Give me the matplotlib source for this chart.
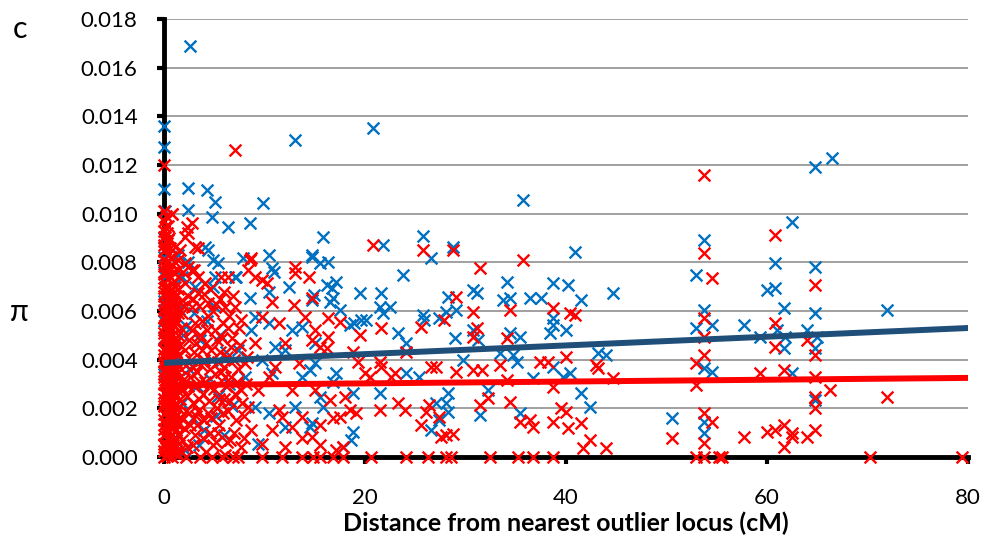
import matplotlib
matplotlib.use("Agg")
import matplotlib.pyplot as plt
import numpy as np

# values: (distance cM, pi x 1000)
blue_pts = [
    (0, 13.6), (0, 12.75), (0, 11.0), (0.1, 10.1), (0, 9.0), (0, 8.2), (0, 7.6), (0, 6.4),
    (0, 5.6), (0, 4.9), (0, 3.4),
    (2.6, 16.9), (13.0, 13.03), (20.8, 13.5), (35.7, 10.56), (2.4, 11.05), (2.4, 10.15),
    (4.25, 10.97), (5.07, 10.49), (4.75, 9.88), (6.4, 9.47), (8.56, 9.6), (9.87, 10.43), (15.8, 9.03),
    (4.1, 8.65), (4.4, 8.5), (4.9, 8.1), (5.4, 7.96), (1.4, 8.3), (2.4, 8.0), (0.1, 7.4), (1.75, 7.4),
    (5.1, 7.4), (7.1, 7.4), (3.1, 7.0), (4.9, 7.0),
    (7.9, 8.16), (10.4, 8.3), (14.7, 8.23), (10.7, 7.75), (10.9, 7.62), (12.4, 6.99), (14.9, 6.66),
    (14.7, 6.45), (8.55, 6.52), (7.2, 7.4), (10.4, 6.79),
    (9.05, 5.77), (10.4, 5.5), (8.7, 5.2), (11.0, 4.54), (12.7, 5.22), (13.7, 5.36), (7.4, 4.4),
    (9.7, 3.98), (12.0, 4.4), (15.0, 4.67), (8.1, 3.3), (10.7, 3.44), (13.7, 3.3), (9.05, 2.07),
    (10.4, 1.8), (13.0, 2.07), (14.7, 1.39), (9.4, 0.55), (12.0, 1.25),
    (1.5, 6.1), (2.2, 5.4), (3.0, 5.9), (3.6, 4.8), (4.3, 5.6), (5.0, 6.2), (5.6, 5.0), (6.2, 4.3),
    (1.3, 4.1), (2.5, 3.6), (3.3, 2.9), (4.6, 3.2), (5.4, 2.5), (6.5, 3.0), (1.8, 2.2), (2.9, 1.6),
    (4.0, 1.1), (5.2, 1.7), (6.0, 0.9), (1.0, 0.8), (2.1, 0.3), (3.5, 0.5), (6.8, 2.1), (4.8, 4.0),
    (1.9, 5.0), (0.6, 3.0), (0.5, 5.8), (0.7, 1.5),
    (14.7, 8.3), (15.5, 7.96), (16.3, 8.03), (23.8, 7.48), (34.1, 7.2), (38.7, 7.14), (40.2, 7.07),
    (16.2, 7.07), (17.1, 7.21), (16.7, 6.93), (19.5, 6.73), (21.6, 6.73), (30.7, 6.86), (31.1, 6.73),
    (28.3, 6.59), (16.8, 6.52), (16.5, 6.38), (33.7, 6.45), (34.4, 6.52), (36.4, 6.52),
    (37.5, 6.52), (41.5, 6.45), (44.7, 6.73), (21.5, 6.18), (22.5, 6.18), (21.8, 5.91), (17.5, 6.04),
    (19.6, 5.63), (18.9, 5.5), (20.1, 5.63), (18.5, 5.43), (25.8, 5.84), (25.9, 5.63), (27.4, 5.7),
    (28.1, 5.97), (29.1, 6.04), (38.7, 5.7), (38.7, 5.43), (38.4, 5.08), (40.0, 5.22), (23.3, 5.08),
    (24.1, 4.67), (29.0, 4.88), (30.7, 5.22), (31.2, 4.81), (34.4, 5.08), (35.4, 4.95), (33.4, 4.26),
    (34.7, 4.19), (29.8, 3.99), (35.1, 3.92), (36.7, 3.23), (38.7, 3.71), (39.7, 3.3), (40.4, 3.44),
    (41.5, 2.62), (42.4, 2.07), (43.2, 4.26), (44.0, 4.19), (31.4, 1.73), (35.4, 1.8), (32.2, 2.75),
    (28.3, 2.62), (28.1, 2.21), (28.3, 1.86), (26.6, 1.11), (27.4, 1.52), (21.5, 2.62), (18.8, 2.62),
    (18.8, 1.04), (18.6, 0.7), (17.8, 0.42), (24.1, 3.44), (25.4, 3.3), (14.5, 3.58), (17.1, 3.44),
    (16.8, 3.1), (15.8, 2.07), (15.5, 2.48), (14.5, 1.25), (15.0, 3.85), (27.1, 2.21),
    (25.8, 9.08), (21.8, 8.7), (28.8, 8.65), (40.9, 8.44), (26.6, 8.17),
    (64.8, 11.93), (66.5, 12.28), (62.5, 9.67), (53.7, 8.92), (60.8, 7.96), (52.9, 7.48),
    (64.8, 7.82), (60.0, 6.87), (60.8, 6.93), (61.7, 6.11), (53.7, 6.04), (64.8, 5.93), (71.9, 6.04),
    (52.9, 5.29), (54.5, 5.43), (57.7, 5.43), (59.3, 4.95), (61.0, 5.22), (61.8, 4.95), (64.0, 5.22),
    (65.0, 4.95), (61.7, 4.47), (64.8, 4.47), (53.7, 3.64), (54.5, 3.51), (62.5, 3.44), (64.8, 2.34),
    (50.5, 1.59), (53.7, 1.45), (53.7, 0.97),
]

# the solid red block next to the y axis
red_dense = [
    (0, 0.0), (0, 0.25), (0, 0.55), (0, 0.9), (0, 1.15), (0, 1.5), (0, 1.75), (0, 2.1), (0, 2.4),
    (0, 2.65), (0, 3.0), (0, 3.3), (0, 3.55), (0, 3.9), (0, 4.2), (0, 4.45), (0, 4.8), (0, 5.1),
    (0, 5.35), (0, 5.7), (0, 6.05), (0, 6.3), (0, 6.6), (0, 6.95), (0, 7.2), (0, 7.5), (0, 7.85),
    (0, 8.1), (0, 8.45), (0, 8.7), (0, 9.05), (0, 9.3), (0, 9.7), (0, 10.1), (0, 12.0),
    (0.1, 0.45), (0.1, 1.35), (0.1, 2.25), (0.1, 3.15), (0.1, 4.05), (0.1, 4.95), (0.1, 5.85),
    (0.1, 6.75), (0.1, 7.65), (0.1, 8.55), (0.1, 9.45),
    (0.2, 0.35), (0.2, 1.0), (0.2, 1.85), (0.2, 2.55), (0.2, 3.4), (0.2, 4.3), (0.2, 5.2),
    (0.2, 6.15), (0.2, 7.0), (0.2, 7.95), (0.2, 8.85), (0.2, 9.9),
    (0.3, 0.05), (0.3, 0.75), (0.3, 1.65), (0.3, 2.6), (0.3, 3.6), (0.3, 4.5), (0.3, 5.45),
    (0.3, 6.5), (0.3, 7.55), (0.3, 8.0), (0.3, 9.2),
    (0.4, 0.1), (0.4, 0.5), (0.4, 0.8), (0.4, 1.3), (0.4, 1.6), (0.4, 2.0), (0.4, 2.3), (0.4, 2.8),
    (0.4, 3.1), (0.4, 3.5), (0.4, 3.8), (0.4, 4.1), (0.4, 4.6), (0.4, 4.9), (0.4, 5.3), (0.4, 5.6),
    (0.4, 5.9), (0.4, 6.4), (0.4, 6.8), (0.4, 7.3), (0.4, 7.7), (0.4, 8.3), (0.4, 8.9), (0.4, 9.5),
    (0.5, 0.3), (0.5, 1.05), (0.5, 2.15), (0.5, 2.95), (0.5, 3.95), (0.5, 4.75), (0.5, 5.75),
    (0.5, 6.6), (0.5, 7.8), (0.5, 9.0),
    (0.6, 0.6), (0.6, 1.55), (0.6, 2.45), (0.6, 3.35), (0.6, 4.25), (0.6, 5.15), (0.6, 6.0),
    (0.6, 7.4), (0.6, 8.6),
    (0.7, 0.2), (0.7, 1.2), (0.7, 2.0), (0.7, 2.85), (0.7, 3.5), (0.7, 4.6), (0.7, 5.3),
    (0.7, 6.45), (0.7, 6.9), (0.7, 8.2),
    (0.8, 0.0), (0.8, 0.4), (0.8, 0.9), (0.8, 1.4), (0.8, 1.9), (0.8, 2.3), (0.8, 2.6), (0.8, 3.2),
    (0.8, 3.7), (0.8, 4.0), (0.8, 4.4), (0.8, 5.0), (0.8, 5.5), (0.8, 5.8), (0.8, 6.2), (0.8, 6.7),
    (0.8, 7.1), (0.8, 7.9), (0.8, 10.0),
    (0.9, 0.5), (0.9, 1.6), (0.9, 2.7), (0.9, 3.55), (0.9, 4.5), (0.9, 5.65), (0.9, 6.55), (0.9, 7.6),
    (1.0, 0.15), (1.0, 1.25), (1.0, 2.05), (1.0, 3.05), (1.0, 3.75), (1.0, 4.65), (1.0, 5.4),
    (1.0, 6.35), (1.0, 7.25),
    (1.1, 0.35), (1.1, 1.45), (1.1, 2.5), (1.1, 3.6), (1.1, 4.7), (1.1, 5.85), (1.1, 7.0), (1.1, 8.0),
    (1.2, 0.2), (1.2, 0.7), (1.2, 1.1), (1.2, 1.7), (1.2, 2.2), (1.2, 2.9), (1.2, 3.4), (1.2, 3.9),
    (1.2, 4.3), (1.2, 4.9), (1.2, 5.6), (1.2, 6.1), (1.2, 6.6),
    (1.4, 0.1), (1.4, 1.3), (1.4, 2.0), (1.4, 2.7), (1.4, 3.2), (1.4, 4.2), (1.4, 5.0), (1.4, 5.9),
    (1.4, 6.9), (1.4, 7.7),
]

red_pts = [
    (1.6, 0.3), (2.0, 1.2), (2.3, 2.5), (2.6, 3.3), (2.1, 4.4), (2.8, 5.2), (1.8, 5.9), (2.4, 6.6),
    (3.1, 0.9), (3.4, 1.9), (3.0, 2.9), (3.7, 3.8), (3.2, 4.7), (3.8, 5.6), (3.5, 6.2), (4.2, 0.2),
    (4.0, 1.5), (4.5, 2.3), (4.1, 3.1), (4.7, 4.4), (4.3, 5.2), (4.9, 6.0), (5.2, 0.6), (5.5, 1.3),
    (5.0, 2.8), (5.7, 3.5), (5.3, 4.8), (5.9, 5.5), (5.6, 6.5), (6.1, 0.1), (6.4, 1.9), (6.0, 2.4),
    (6.7, 3.3), (6.3, 4.1), (6.8, 4.9), (6.5, 5.8), (7.0, 1.0), (7.1, 2.6), (2.2, 0.0), (3.6, 0.0),
    (4.8, 0.0), (5.8, 0.0), (6.9, 0.0), (1.5, 3.7), (1.7, 1.6), (2.7, 4.0), (3.9, 2.6), (4.6, 1.0),
    (5.4, 3.9), (6.2, 2.9), (1.9, 2.8), (2.5, 1.8), (3.3, 3.5), (4.4, 5.8), (5.1, 5.2), (6.6, 0.7),
    (1.5, 0.9), (1.6, 2.4), (1.6, 4.6), (1.7, 5.3), (2.0, 3.2), (2.2, 1.9), (2.9, 0.5), (2.9, 2.2),
    (3.0, 4.3), (3.3, 1.3), (3.6, 5.0), (4.0, 4.0), (4.4, 1.8), (4.6, 3.6), (5.3, 2.0), (5.6, 4.3),
    (6.0, 3.7), (6.4, 5.3), (7.4, 3.6), (7.6, 4.6), (8.0, 1.7), (8.3, 4.1), (6.9, 6.6), (2.0, 6.2),
    (1.8, 0.7), (2.3, 0.4), (2.6, 1.3), (2.4, 2.9), (2.9, 3.7), (2.2, 3.8), (2.5, 4.8), (3.1, 5.5),
    (2.9, 6.5), (3.5, 2.4), (3.6, 3.1), (3.2, 1.7), (3.9, 0.8), (3.8, 4.4), (4.2, 4.7), (4.0, 6.7),
    (4.5, 2.9), (4.7, 1.6), (4.9, 0.5), (5.1, 3.4), (5.4, 1.0), (5.5, 2.4), (5.8, 4.9), (5.9, 1.8),
    (6.1, 3.3), (6.3, 0.6), (6.6, 2.3), (6.7, 4.5), (7.2, 1.5), (7.3, 3.1), (7.5, 5.3), (7.8, 2.2),
    (8.0, 0.8), (8.2, 3.0), (7.0, 4.0), (5.2, 6.3), (6.0, 6.8), (4.6, 6.9), (3.0, 7.7), (1.9, 7.6),
    (0.76, 10.0), (2.25, 9.47), (2.75, 9.6), (2.4, 9.2), (2.1, 9.05), (1.1, 8.65), (1.6, 8.5),
    (3.1, 8.65), (3.4, 8.58), (1.4, 8.1), (2.1, 7.96), (2.4, 7.82), (2.75, 7.68), (1.1, 7.55),
    (3.4, 7.4), (4.1, 7.14), (5.7, 7.4), (6.4, 7.4), (2.1, 7.14), (3.4, 6.73), (4.4, 6.31), (6.1, 6.18),
    (7.1, 6.18), (0.4, 6.73), (1.75, 6.45), (2.75, 6.18), (7.06, 12.6),
    (8.55, 8.1), (8.7, 8.16), (8.4, 7.68), (9.05, 7.4), (9.7, 7.27), (10.2, 7.14), (13.0, 7.82),
    (13.0, 7.55), (14.4, 7.4), (10.7, 6.38), (12.9, 6.24),
    (7.7, 5.63), (9.7, 5.77), (11.4, 5.5), (14.0, 5.77), (15.0, 5.22), (9.05, 4.67), (12.0, 4.67),
    (14.7, 4.81), (8.1, 3.85), (11.0, 3.71), (13.4, 3.85), (10.4, 3.3), (7.7, 2.75), (9.4, 2.75),
    (12.7, 2.75), (15.0, 2.75), (8.4, 2.07), (11.4, 1.93), (13.7, 1.66), (11.7, 1.66), (8.7, 1.11),
    (10.7, 1.11), (12.7, 1.25), (14.7, 0.84), (7.7, 0.42), (9.7, 0.55), (12.0, 0.42),
    (7.4, 0.0), (9.7, 0.0), (11.7, 0.0), (13.7, 0.0),
    (20.8, 8.7), (25.8, 8.51), (28.8, 8.51), (35.7, 8.1), (31.4, 7.75), (14.7, 6.52), (16.3, 5.7),
    (17.5, 5.56), (21.6, 5.29), (25.6, 5.36), (27.9, 5.63), (29.1, 6.59), (30.7, 5.97), (31.1, 5.29),
    (30.7, 4.95), (34.4, 6.04), (34.1, 4.88), (38.7, 6.11), (40.4, 5.91), (40.9, 5.84), (19.5, 5.01),
    (16.3, 4.95), (15.5, 4.54), (16.2, 4.47), (18.8, 4.33), (19.3, 3.92), (21.5, 3.92), (21.6, 3.71),
    (23.0, 3.44), (24.1, 4.33), (26.6, 3.71), (27.1, 3.71), (29.1, 3.51), (30.7, 3.58), (31.6, 3.58),
    (33.4, 3.78), (37.4, 3.92), (38.2, 3.92), (40.0, 4.12), (43.0, 3.78), (43.2, 3.64), (44.7, 3.23),
    (38.7, 2.89), (34.1, 3.17), (32.2, 2.41), (31.4, 2.14), (34.4, 2.28), (23.3, 2.21), (24.0, 1.93),
    (21.5, 1.93), (26.4, 2.14), (26.1, 1.86), (27.4, 1.66), (25.6, 1.32), (27.6, 0.84), (28.1, 0.91),
    (28.8, 0.95), (35.4, 1.45), (36.4, 1.52), (36.7, 1.25), (38.7, 1.45), (39.5, 2.0), (40.0, 1.86),
    (40.2, 1.18), (41.5, 1.38), (42.4, 0.7), (41.7, 0.36), (44.0, 0.36), (17.8, 0.42), (17.1, 0.29),
    (15.5, 0.49), (13.7, 0.77), (15.5, 1.32), (16.8, 1.59), (17.5, 1.66), (18.5, 1.93), (19.1, 1.8),
    (20.5, 3.3), (20.0, 3.44), (22.6, 3.3), (18.0, 2.48), (16.5, 2.34),
    (14.8, 0.0), (15.5, 0.0), (16.8, 0.0), (17.8, 0.0), (20.6, 0.0), (24.1, 0.0), (26.3, 0.0),
    (28.1, 0.0), (28.6, 0.0), (32.4, 0.0), (35.2, 0.0), (36.7, 0.0), (38.7, 0.0),
    (53.7, 11.6), (60.8, 9.12), (53.7, 8.37), (54.5, 7.34), (64.8, 7.07), (53.7, 5.7), (60.8, 5.5),
    (53.7, 4.95), (64.0, 4.81), (60.8, 4.54), (64.8, 4.19), (53.7, 4.19), (52.9, 3.85), (61.7, 3.58),
    (59.3, 3.44), (64.8, 3.3), (52.9, 2.95), (66.3, 2.75), (71.9, 2.48), (64.8, 2.48), (64.8, 2.0),
    (53.7, 1.79), (54.5, 1.45), (50.5, 0.77), (53.7, 0.56), (57.7, 0.84), (60.0, 1.04), (60.8, 1.11),
    (61.7, 1.32), (62.5, 0.97), (62.5, 0.84), (64.0, 0.84), (64.8, 1.11), (61.7, 0.42),
    (52.9, 0.0), (53.7, 0.0), (55.2, 0.0), (55.5, 0.0), (70.3, 0.0), (79.4, 0.0),
]

# linear trend lines, end points
trend_cm = [0, 80]
blue_trend = [3.87, 5.30]
red_trend = [2.95, 3.25]

x_ticks = [0, 20, 40, 60, 80]
y_ticks = [0.000, 0.002, 0.004, 0.006, 0.008, 0.010, 0.012, 0.014, 0.016, 0.018]

blue_cm, blue_pi = zip(*blue_pts)
red_cm, red_pi = zip(*(red_dense + red_pts))
blue_pi = np.array(blue_pi) / 1000
red_pi = np.array(red_pi) / 1000

plt.rcParams['font.family'] = ['Lato', 'DejaVu Sans']

fig = plt.figure(figsize=(9.84, 5.36), dpi=100)
ax = fig.add_axes([0.1667, 0.1474, 0.8170, 0.8172])

ax.scatter(blue_cm, blue_pi, marker='x', s=72, color='#0070C0', linewidths=1.7, zorder=3, clip_on=False)
ax.scatter(red_cm, red_pi, marker='x', s=72, color='#FF0000', linewidths=1.7, zorder=4, clip_on=False)
ax.plot(trend_cm, np.array(blue_trend) / 1000, color='#1F4E79', lw=4.3, solid_capstyle='round', zorder=5)
ax.plot(trend_cm, np.array(red_trend) / 1000, color='#FF0000', lw=4.3, solid_capstyle='round', zorder=5)

ax.set_xlim(0, 80)
ax.set_ylim(0, 0.018)
ax.set_xticks(x_ticks)
ax.set_yticks(y_ticks)
ax.set_yticklabels(["%.3f" % v for v in y_ticks])

ax.grid(axis='y', color='#999999', lw=1.3, zorder=0)
ax.set_axisbelow(True)
for s in ['top', 'right']:
    ax.spines[s].set_visible(False)
for s in ['left', 'bottom']:
    ax.spines[s].set_linewidth(3.5)
    ax.spines[s].set_zorder(2.5)

ax.tick_params(axis='both', length=5, width=3, labelsize=16, color='black')
ax.tick_params(axis='y', pad=14)
ax.tick_params(axis='x', pad=17)

ax.set_xlabel("Distance from nearest outlier locus (cM)", fontsize=18, fontweight='bold', labelpad=3)
fig.text(0.010, 0.418, "π", fontsize=22, va='center', ha='left')
fig.text(0.013, 0.945, "c", fontsize=22, va='center', ha='left')

fig.savefig("out.png", dpi=100)
